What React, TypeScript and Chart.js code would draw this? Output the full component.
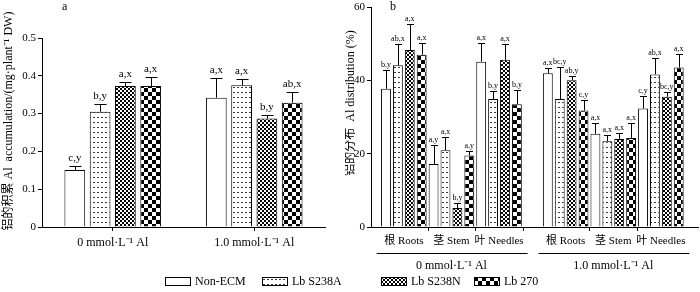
import React, { useEffect, useRef } from 'react';
import { Chart, registerables } from 'chart.js';

Chart.register(...registerables);

const FONT = '"Liberation Serif", "Times New Roman", "Noto Sans CJK SC", serif';

// ---------- shared ----------
const seriesNames = ['Non-ECM', 'Lb S238A', 'Lb S238N', 'Lb 270'];

// ---------- panel a : Al accumulation (mg·plant⁻¹ DW) ----------
const accCategories = ['0 mmol·L⁻¹ Al', '1.0 mmol·L⁻¹ Al'];
const accNonECM = [0.151, 0.342];
const accS238A = [0.305, 0.375];
const accS238N = [0.373, 0.287];
const accLb270 = [0.373, 0.329];
const accErrTopNonECM = [0.162, 0.393];
const accErrTopS238A = [0.325, 0.391];
const accErrTopS238N = [0.383, 0.296];
const accErrTopLb270 = [0.397, 0.356];
const accSigNonECM = ['c,y', 'a,x'];
const accSigS238A = ['b,y', 'a,x'];
const accSigS238N = ['a,x', 'b,y'];
const accSigLb270 = ['a,x', 'ab,x'];
const accYTicks = [0, 0.1, 0.2, 0.3, 0.4, 0.5];

// ---------- panel b : Al distribution (%) ----------
const organs = ['根 Roots', '茎 Stem', '叶 Needles', '根 Roots', '茎 Stem', '叶 Needles'];
const organGroup = [0, 0, 0, 1, 1, 1];
const alGroups = ['0 mmol·L⁻¹ Al', '1.0 mmol·L⁻¹ Al'];
const distNonECM = [37.7, 17.2, 45.1, 41.9, 25.4, 32.3];
const distS238A = [44.1, 20.9, 34.9, 34.9, 23.4, 41.6];
const distS238N = [48.3, 5.2, 45.6, 40.0, 24.0, 35.5];
const distLb270 = [47.0, 19.5, 33.5, 31.8, 24.3, 43.5];
const distErrTopNonECM = [42.8, 22.4, 50.2, 43.3, 28.5, 35.6];
const distErrTopS238A = [50.0, 24.6, 37.2, 43.7, 25.1, 46.0];
const distErrTopS238N = [55.3, 6.5, 49.8, 41.1, 25.7, 36.7];
const distErrTopLb270 = [50.2, 20.6, 37.4, 34.6, 28.3, 47.2];
const distSigNonECM = ['b,y', 'a,y', 'a,x', 'a,x', 'a,x', 'c,y'];
const distSigS238A = ['ab,x', 'a,x', 'b,y', 'bc,y', 'a,x', 'ab,x'];
const distSigS238N = ['a,x', 'b,y', 'a,x', 'ab,y', 'a,x', 'bc,y'];
const distSigLb270 = ['a,x', 'a,y', 'b,y', 'c,y', 'a,x', 'a,x'];
const distYTicks = [0, 20, 40, 60];

// layout constants (not data)
const GROUP_GAP = 0.4;
const organPos = organs.map((_, i) => i + organGroup[i] * GROUP_GAP);

function makeFills(g: CanvasRenderingContext2D): (string | CanvasPattern)[] {
  const mk = (w: number, h: number, draw: (c: CanvasRenderingContext2D) => void) => {
    const c = document.createElement('canvas');
    c.width = w;
    c.height = h;
    const x = c.getContext('2d')!;
    x.fillStyle = '#ffffff';
    x.fillRect(0, 0, w, h);
    draw(x);
    return g.createPattern(c, 'repeat')!;
  };
  const dots = mk(4, 5, (c) => {
    c.fillStyle = '#3a3a3a';
    c.fillRect(1, 2, 2, 1);
  });
  const fine = mk(4, 4, (c) => {
    c.fillStyle = '#000';
    c.fillRect(0, 0, 2, 2);
    c.fillRect(2, 2, 2, 2);
  });
  const coarse = mk(8, 8, (c) => {
    c.fillStyle = '#000';
    c.fillRect(0, 0, 4, 4);
    c.fillRect(4, 4, 4, 4);
  });
  return ['#ffffff', dots, fine, coarse];
}

function errorBarsPlugin(tops: number[][], sigs: string[][], fontSize: number, cap: number, gap: number) {
  return {
    id: 'errorBars',
    afterDatasetsDraw(chart: any) {
      const { ctx } = chart;
      const ys = chart.scales.y;
      ctx.save();
      ctx.strokeStyle = '#000';
      ctx.fillStyle = '#000';
      ctx.lineWidth = 1;
      ctx.font = `${fontSize}px ${FONT}`;
      ctx.textAlign = 'center';
      ctx.textBaseline = 'alphabetic';
      tops.forEach((t, di) => {
        const meta = chart.getDatasetMeta(di);
        meta.data.forEach((bar: any, i: number) => {
          const x = Math.round(bar.x) + 0.5;
          const ye = Math.round(ys.getPixelForValue(t[i])) + 0.5;
          ctx.beginPath();
          ctx.moveTo(x, bar.y);
          ctx.lineTo(x, ye);
          ctx.moveTo(x - cap, ye);
          ctx.lineTo(x + cap, ye);
          ctx.stroke();
          ctx.fillText(sigs[di][i], bar.x, ye - gap);
        });
      });
      ctx.restore();
    },
  };
}

function textPlugin(letter: string, letterX: number, letterY: number, title: string, titleX: number, titleY: number) {
  return {
    id: 'panelText',
    afterDraw(chart: any) {
      const { ctx } = chart;
      ctx.save();
      ctx.fillStyle = '#000';
      ctx.font = `12px ${FONT}`;
      ctx.textAlign = 'left';
      ctx.textBaseline = 'alphabetic';
      ctx.fillText(letter, letterX, letterY);
      ctx.translate(titleX, titleY);
      ctx.rotate(-Math.PI / 2);
      ctx.textAlign = 'center';
      ctx.textBaseline = 'middle';
      ctx.fillText(title, 0, 0);
      ctx.restore();
    },
  };
}

const groupAxisPlugin = {
  id: 'groupAxis',
  afterDraw(chart: any) {
    const { ctx, chartArea } = chart;
    const xs = chart.scales.x;
    ctx.save();
    ctx.strokeStyle = '#000';
    ctx.fillStyle = '#000';
    ctx.lineWidth = 1;
    // boundary tick marks
    const marks: number[] = [];
    for (let i = 0; i < organPos.length - 1; i++) {
      if (organGroup[i] === organGroup[i + 1]) marks.push((organPos[i] + organPos[i + 1]) / 2);
      else marks.push(organPos[i] + 0.5);
    }
    ctx.beginPath();
    marks.forEach((m) => {
      const px = Math.round(xs.getPixelForValue(m)) + 0.5;
      ctx.moveTo(px, chartArea.bottom);
      ctx.lineTo(px, chartArea.bottom + 4);
    });
    ctx.stroke();
    // group underline + group label
    ctx.font = `12px ${FONT}`;
    ctx.textAlign = 'center';
    ctx.textBaseline = 'middle';
    alGroups.forEach((g, gi) => {
      const idx = organGroup.map((v, i) => (v === gi ? i : -1)).filter((i) => i >= 0);
      const first = organPos[idx[0]];
      const last = organPos[idx[idx.length - 1]];
      const x0 = xs.getPixelForValue(first - 0.57);
      const x1 = xs.getPixelForValue(last + 0.6);
      const ly = Math.round(chartArea.bottom + 26) + 0.5;
      ctx.beginPath();
      ctx.moveTo(x0, ly);
      ctx.lineTo(x1, ly);
      ctx.stroke();
      ctx.fillText(g, (xs.getPixelForValue(first) + xs.getPixelForValue(last)) / 2, chartArea.bottom + 38.5);
    });
    ctx.restore();
  },
};

function noPad(s: any) {
  s.paddingLeft = 0;
  s.paddingRight = 0;
  s.paddingTop = 0;
  s.paddingBottom = 0;
}

function PanelA() {
  const ref = useRef<HTMLCanvasElement>(null);
  useEffect(() => {
    const canvas = ref.current!;
    const g = canvas.getContext('2d')!;
    const fills = makeFills(g);
    const values = [accNonECM, accS238A, accS238N, accLb270];
    const chart = new Chart(canvas, {
      type: 'bar',
      data: {
        labels: accCategories,
        datasets: values.map((v, i) => ({
          label: seriesNames[i],
          data: v,
          backgroundColor: fills[i] as any,
          borderColor: '#000',
          borderWidth: 1,
          categoryPercentage: 0.715,
          barPercentage: 0.82,
        })),
      },
      options: {
        responsive: false,
        animation: false,
        layout: { autoPadding: false, padding: { left: 0, right: 20, top: 38, bottom: 0 } },
        plugins: { legend: { display: false }, tooltip: { enabled: false } },
        scales: {
          x: {
            type: 'category',
            grid: { offset: false, drawOnChartArea: false, drawTicks: true, tickLength: 4, color: '#000' },
            border: { color: '#000', width: 1 },
            ticks: { color: '#000', font: { family: FONT, size: 12 }, padding: 5, maxRotation: 0 },
            afterFit: (s: any) => { s.height = 65; noPad(s); },
          },
          y: {
            min: 0,
            max: 0.5,
            afterBuildTicks: (s: any) => { s.ticks = accYTicks.map((v) => ({ value: v })); },
            grid: { drawOnChartArea: false, tickLength: 4, color: '#000' },
            border: { color: '#000', width: 1 },
            ticks: {
              color: '#000',
              font: { family: FONT, size: 11 },
              padding: 2,
              callback: (v: any) => (Number(v) === 0 ? '0' : Number(v).toFixed(1)),
            },
            afterFit: (s: any) => { s.width = 42; noPad(s); },
          },
        },
      },
      plugins: [
        errorBarsPlugin(
          [accErrTopNonECM, accErrTopS238A, accErrTopS238N, accErrTopLb270],
          [accSigNonECM, accSigS238A, accSigS238N, accSigLb270],
          11, 6, 5.5,
        ),
        textPlugin('a', 62, 10, '铝的积累 Al  accumulation/(mg·plant⁻¹ DW)', 9, 121),
      ],
    } as any);
    return () => chart.destroy();
  }, []);
  return <canvas ref={ref} width={345} height={292} style={{ position: 'absolute', left: 0, top: 0 }} />;
}

function PanelB() {
  const ref = useRef<HTMLCanvasElement>(null);
  useEffect(() => {
    const canvas = ref.current!;
    const g = canvas.getContext('2d')!;
    const fills = makeFills(g);
    const values = [distNonECM, distS238A, distS238N, distLb270];
    const chart = new Chart(canvas, {
      type: 'bar',
      data: {
        datasets: values.map((v, i) => ({
          label: seriesNames[i],
          data: v.map((y, k) => ({ x: organPos[k], y })),
          backgroundColor: fills[i] as any,
          borderColor: '#000',
          borderWidth: 1,
          categoryPercentage: 1,
          barPercentage: 0.83,
        })),
      },
      options: {
        responsive: false,
        animation: false,
        layout: { autoPadding: false, padding: { left: 0, right: 2, top: 7, bottom: 0 } },
        plugins: { legend: { display: false }, tooltip: { enabled: false } },
        scales: {
          x: {
            type: 'linear',
            offset: false,
            bounds: 'data',
            min: -0.69,
            max: 6.18,
            afterBuildTicks: (s: any) => { s.ticks = organPos.map((v) => ({ value: v })); },
            grid: { display: false, drawTicks: false },
            border: { display: true, color: '#000', width: 1 },
            ticks: {
              color: '#000',
              font: { family: FONT, size: 11 },
              padding: 8,
              autoSkip: false,
              maxRotation: 0,
              callback: (_v: any, i: number) => organs[i],
            },
            afterFit: (s: any) => { s.height = 65; noPad(s); },
          },
          y: {
            min: 0,
            max: 60,
            afterBuildTicks: (s: any) => { s.ticks = distYTicks.map((v) => ({ value: v })); },
            grid: { drawOnChartArea: false, tickLength: 4, color: '#000' },
            border: { color: '#000', width: 1 },
            ticks: { color: '#000', font: { family: FONT, size: 11 }, padding: 2 },
            afterFit: (s: any) => { s.width = 26; noPad(s); },
          },
        },
      },
      plugins: [
        errorBarsPlugin(
          [distErrTopNonECM, distErrTopS238A, distErrTopS238N, distErrTopLb270],
          [distSigNonECM, distSigS238A, distSigS238N, distSigLb270],
          8, 3.5, 3.5,
        ),
        groupAxisPlugin,
        textPlugin('b', 45, 10, '铝的分布  Al distribution (%)', 6, 103),
      ],
    } as any);
    return () => chart.destroy();
  }, []);
  return <canvas ref={ref} width={355} height={292} style={{ position: 'absolute', left: 345, top: 0 }} />;
}

function Swatch({ idx }: { idx: number }) {
  const ref = useRef<HTMLCanvasElement>(null);
  useEffect(() => {
    const c = ref.current!;
    const g = c.getContext('2d')!;
    g.fillStyle = makeFills(g)[idx] as any;
    g.fillRect(0, 0, c.width, c.height);
    g.strokeStyle = '#000';
    g.lineWidth = 1;
    g.strokeRect(0.5, 0.5, c.width - 1, c.height - 1);
  }, [idx]);
  return <canvas ref={ref} width={26} height={9} style={{ display: 'block', marginRight: 4 }} />;
}

const legendLeft = [165, 262, 381, 474];

export default function App() {
  return (
    <div style={{ position: 'absolute', left: 0, top: 0, width: 700, height: 292, background: '#fff', overflow: 'hidden' }}>
      <PanelA />
      <PanelB />
      {seriesNames.map((n, i) => (
        <div
          key={n}
          style={{
            position: 'absolute',
            left: legendLeft[i],
            top: 275,
            height: 13,
            display: 'flex',
            alignItems: 'center',
            fontFamily: FONT,
            fontSize: 12,
            color: '#000',
            whiteSpace: 'nowrap',
          }}
        >
          <Swatch idx={i} />
          <span>{n}</span>
        </div>
      ))}
    </div>
  );
}
